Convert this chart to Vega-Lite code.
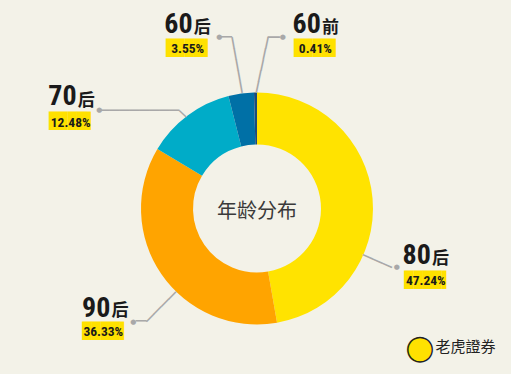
{
  "$schema": "https://vega.github.io/schema/vega-lite/v6.json",
  "width": 508,
  "height": 331,
  "autosize": "none",
  "padding": {"left": 3, "top": 43, "right": 0, "bottom": 0},
  "background": "#F3F2E8",
  "config": {"view": {"stroke": null}},
  "data": {"values": [
    {"gen": "80后", "decade": "80", "suffix": "后", "share": 0.4724, "rank": 1},
    {"gen": "90后", "decade": "90", "suffix": "后", "share": 0.3633, "rank": 2},
    {"gen": "70后", "decade": "70", "suffix": "后", "share": 0.1248, "rank": 3},
    {"gen": "60后", "decade": "60", "suffix": "后", "share": 0.0355, "rank": 4},
    {"gen": "60前", "decade": "60", "suffix": "前", "share": 0.0041, "rank": 5}
  ]},
  "layer": [
    {"mark": {"type": "arc", "innerRadius": 64, "outerRadius": 116},
     "encoding": {"theta": {"field": "share", "type": "quantitative", "stack": true}, "order": {"field": "rank", "type": "quantitative"},
       "color": {"field": "gen", "type": "nominal", "legend": null, "scale": {"domain": ["80后", "90后", "70后", "60后", "60前"], "range": ["#FFE300", "#FFA400", "#00ACC8", "#0070A6", "#1B4C7A"]}}}},
    {"data": {"values": [{"label": "年龄分布"}]},
     "mark": {"type": "text", "font": "Noto Sans CJK SC", "fontSize": 20, "color": "#3a3a3a", "align": "center", "baseline": "middle", "dy": 3},
     "encoding": {"text": {"field": "label"}}},

    {"mark": {"type": "text", "radius": 150, "font": "DejaVu Sans Mono", "fontSize": 17.53, "angle": 23.65, "dx": -16.19, "dy": 77.84, "align": "left", "baseline": "alphabetic", "color": "#A8A8A8"},
     "encoding": {"theta": {"field": "share", "type": "quantitative", "stack": true}, "order": {"field": "rank", "type": "quantitative"}, "text": {"condition": {"test": "datum.gen === '80后'", "value": "───"}, "value": ""}}},
    {"mark": {"type": "text", "radius": 150, "font": "DejaVu Sans Mono", "fontSize": 17.33, "angle": -45.39, "dx": -10.72, "dy": 34.85, "align": "left", "baseline": "alphabetic", "color": "#A8A8A8"},
     "encoding": {"theta": {"field": "share", "type": "quantitative", "stack": true}, "order": {"field": "rank", "type": "quantitative"}, "text": {"condition": {"test": "datum.gen === '90后'", "value": "────"}, "value": ""}}},
    {"mark": {"type": "text", "radius": 150, "font": "DejaVu Sans Mono", "fontSize": 17.5, "dx": 2.31, "dy": 33.87, "align": "left", "baseline": "alphabetic", "color": "#A8A8A8"},
     "encoding": {"theta": {"field": "share", "type": "quantitative", "stack": true}, "order": {"field": "rank", "type": "quantitative"}, "text": {"condition": {"test": "datum.gen === '90后'", "value": "─"}, "value": ""}}},
    {"mark": {"type": "text", "radius": 150, "font": "DejaVu Sans Mono", "fontSize": 16.61, "dx": -68.03, "dy": 27.94, "align": "left", "baseline": "alphabetic", "color": "#A8A8A8"},
     "encoding": {"theta": {"field": "share", "type": "quantitative", "stack": true}, "order": {"field": "rank", "type": "quantitative"}, "text": {"condition": {"test": "datum.gen === '70后'", "value": "────────"}, "value": ""}}},
    {"mark": {"type": "text", "radius": 150, "font": "DejaVu Sans Mono", "fontSize": 15.3, "angle": 43.2, "dx": 24.1, "dy": 13.23, "align": "left", "baseline": "alphabetic", "color": "#A8A8A8"},
     "encoding": {"theta": {"field": "share", "type": "quantitative", "stack": true}, "order": {"field": "rank", "type": "quantitative"}, "text": {"condition": {"test": "datum.gen === '70后'", "value": "─"}, "value": ""}}},
    {"mark": {"type": "text", "radius": 150, "font": "DejaVu Sans Mono", "fontSize": 17.5, "dx": -15.26, "dy": -16.83, "align": "left", "baseline": "alphabetic", "color": "#A8A8A8"},
     "encoding": {"theta": {"field": "share", "type": "quantitative", "stack": true}, "order": {"field": "rank", "type": "quantitative"}, "text": {"condition": {"test": "datum.gen === '60后'", "value": "─"}, "value": ""}}},
    {"mark": {"type": "text", "radius": 150, "font": "DejaVu Sans Mono", "fontSize": 18.7, "angle": 79.77, "dx": -23.1, "dy": 6.84, "align": "left", "baseline": "alphabetic", "color": "#A8A8A8"},
     "encoding": {"theta": {"field": "share", "type": "quantitative", "stack": true}, "order": {"field": "rank", "type": "quantitative"}, "text": {"condition": {"test": "datum.gen === '60后'", "value": "─────"}, "value": ""}}},
    {"mark": {"type": "text", "radius": 150, "font": "DejaVu Sans Mono", "fontSize": 20, "dx": 12.64, "dy": -14.61, "align": "left", "baseline": "alphabetic", "color": "#A8A8A8"},
     "encoding": {"theta": {"field": "share", "type": "quantitative", "stack": true}, "order": {"field": "rank", "type": "quantitative"}, "text": {"condition": {"test": "datum.gen === '60前'", "value": "─"}, "value": ""}}},
    {"mark": {"type": "text", "radius": 150, "font": "DejaVu Sans Mono", "fontSize": 18.81, "angle": 101.92, "dx": -23.36, "dy": -1.78, "align": "left", "baseline": "alphabetic", "color": "#A8A8A8"},
     "encoding": {"theta": {"field": "share", "type": "quantitative", "stack": true}, "order": {"field": "rank", "type": "quantitative"}, "text": {"condition": {"test": "datum.gen === '60前'", "value": "─────"}, "value": ""}}},

    {"mark": {"type": "text", "radius": 150, "font": "DejaVu Sans", "fontSize": 7, "dx": -9.73, "dy": 73.83, "align": "center", "baseline": "alphabetic", "color": "#A8A8A8"},
     "encoding": {"theta": {"field": "share", "type": "quantitative", "stack": true}, "order": {"field": "rank", "type": "quantitative"}, "text": {"condition": {"test": "datum.gen === '80后'", "value": "●"}, "value": ""}}},
    {"mark": {"type": "text", "radius": 150, "font": "DejaVu Sans", "fontSize": 7, "dx": -0.19, "dy": 30.0, "align": "center", "baseline": "alphabetic", "color": "#A8A8A8"},
     "encoding": {"theta": {"field": "share", "type": "quantitative", "stack": true}, "order": {"field": "rank", "type": "quantitative"}, "text": {"condition": {"test": "datum.gen === '90后'", "value": "●"}, "value": ""}}},
    {"mark": {"type": "text", "radius": 150, "font": "DejaVu Sans", "fontSize": 7, "dx": -68.03, "dy": 24.17, "align": "center", "baseline": "alphabetic", "color": "#A8A8A8"},
     "encoding": {"theta": {"field": "share", "type": "quantitative", "stack": true}, "order": {"field": "rank", "type": "quantitative"}, "text": {"condition": {"test": "datum.gen === '70后'", "value": "●"}, "value": ""}}},
    {"mark": {"type": "text", "radius": 150, "font": "DejaVu Sans", "fontSize": 7, "dx": -17.16, "dy": -21.0, "align": "center", "baseline": "alphabetic", "color": "#A8A8A8"},
     "encoding": {"theta": {"field": "share", "type": "quantitative", "stack": true}, "order": {"field": "rank", "type": "quantitative"}, "text": {"condition": {"test": "datum.gen === '60后'", "value": "●"}, "value": ""}}},
    {"mark": {"type": "text", "radius": 150, "font": "DejaVu Sans", "fontSize": 7, "dx": 27.64, "dy": -19.6, "align": "center", "baseline": "alphabetic", "color": "#A8A8A8"},
     "encoding": {"theta": {"field": "share", "type": "quantitative", "stack": true}, "order": {"field": "rank", "type": "quantitative"}, "text": {"condition": {"test": "datum.gen === '60前'", "value": "●"}, "value": ""}}},

    {"mark": {"type": "text", "radius": 150, "font": "DejaVu Sans Mono", "fontSize": 15.5, "dx": -2.13, "dy": 89.86, "align": "left", "baseline": "alphabetic", "color": "#FFE100"},
     "encoding": {"theta": {"field": "share", "type": "quantitative", "stack": true}, "order": {"field": "rank", "type": "quantitative"}, "text": {"condition": {"test": "datum.gen === '80后'", "value": "████▌"}, "value": ""}}},
    {"mark": {"type": "text", "radius": 150, "font": "DejaVu Sans Mono", "fontSize": 15.5, "dx": -51.19, "dy": 42.73, "align": "left", "baseline": "alphabetic", "color": "#FFE100"},
     "encoding": {"theta": {"field": "share", "type": "quantitative", "stack": true}, "order": {"field": "rank", "type": "quantitative"}, "text": {"condition": {"test": "datum.gen === '90后'", "value": "████▌"}, "value": ""}}},
    {"mark": {"type": "text", "radius": 150, "font": "DejaVu Sans Mono", "fontSize": 15.5, "dx": -118.33, "dy": 38.1, "align": "left", "baseline": "alphabetic", "color": "#FFE100"},
     "encoding": {"theta": {"field": "share", "type": "quantitative", "stack": true}, "order": {"field": "rank", "type": "quantitative"}, "text": {"condition": {"test": "datum.gen === '70后'", "value": "████▌"}, "value": ""}}},
    {"mark": {"type": "text", "radius": 150, "font": "DejaVu Sans Mono", "fontSize": 15.5, "dx": -70.46, "dy": -6.87, "align": "left", "baseline": "alphabetic", "color": "#FFE100"},
     "encoding": {"theta": {"field": "share", "type": "quantitative", "stack": true}, "order": {"field": "rank", "type": "quantitative"}, "text": {"condition": {"test": "datum.gen === '60后'", "value": "████▌"}, "value": ""}}},
    {"mark": {"type": "text", "radius": 150, "font": "DejaVu Sans Mono", "fontSize": 15.5, "dx": 38.94, "dy": -5.47, "align": "left", "baseline": "alphabetic", "color": "#FFE100"},
     "encoding": {"theta": {"field": "share", "type": "quantitative", "stack": true}, "order": {"field": "rank", "type": "quantitative"}, "text": {"condition": {"test": "datum.gen === '60前'", "value": "████▌"}, "value": ""}}},

    {"mark": {"type": "text", "radius": 150, "font": "Roboto Condensed, Roboto", "fontWeight": "bold", "fontSize": 13.5, "dx": 19.37, "dy": 89.52, "align": "center", "baseline": "alphabetic", "color": "#1a1a1a"},
     "encoding": {"theta": {"field": "share", "type": "quantitative", "stack": true}, "order": {"field": "rank", "type": "quantitative"}, "text": {"condition": {"test": "datum.gen === '80后'", "field": "share", "format": ".2%"}, "value": ""}}},
    {"mark": {"type": "text", "radius": 150, "font": "Roboto Condensed, Roboto", "fontWeight": "bold", "fontSize": 13.5, "dx": -30.19, "dy": 42.89, "align": "center", "baseline": "alphabetic", "color": "#1a1a1a"},
     "encoding": {"theta": {"field": "share", "type": "quantitative", "stack": true}, "order": {"field": "rank", "type": "quantitative"}, "text": {"condition": {"test": "datum.gen === '90后'", "field": "share", "format": ".2%"}, "value": ""}}},
    {"mark": {"type": "text", "radius": 150, "font": "Roboto Condensed, Roboto", "fontWeight": "bold", "fontSize": 13.5, "dx": -96.63, "dy": 38.26, "align": "center", "baseline": "alphabetic", "color": "#1a1a1a"},
     "encoding": {"theta": {"field": "share", "type": "quantitative", "stack": true}, "order": {"field": "rank", "type": "quantitative"}, "text": {"condition": {"test": "datum.gen === '70后'", "field": "share", "format": ".2%"}, "value": ""}}},
    {"mark": {"type": "text", "radius": 150, "font": "Roboto Condensed, Roboto", "fontWeight": "bold", "fontSize": 13.5, "dx": -48.76, "dy": -6.71, "align": "center", "baseline": "alphabetic", "color": "#1a1a1a"},
     "encoding": {"theta": {"field": "share", "type": "quantitative", "stack": true}, "order": {"field": "rank", "type": "quantitative"}, "text": {"condition": {"test": "datum.gen === '60后'", "field": "share", "format": ".2%"}, "value": ""}}},
    {"mark": {"type": "text", "radius": 150, "font": "Roboto Condensed, Roboto", "fontWeight": "bold", "fontSize": 13.5, "dx": 60.24, "dy": -5.31, "align": "center", "baseline": "alphabetic", "color": "#1a1a1a"},
     "encoding": {"theta": {"field": "share", "type": "quantitative", "stack": true}, "order": {"field": "rank", "type": "quantitative"}, "text": {"condition": {"test": "datum.gen === '60前'", "field": "share", "format": ".2%"}, "value": ""}}},

    {"mark": {"type": "text", "radius": 150, "font": "Roboto Condensed, Roboto", "fontWeight": "bold", "fontSize": 28, "dx": -3.93, "dy": 68.52, "align": "left", "baseline": "alphabetic", "color": "#1a1a1a"},
     "encoding": {"theta": {"field": "share", "type": "quantitative", "stack": true}, "order": {"field": "rank", "type": "quantitative"}, "text": {"condition": {"test": "datum.gen === '80后'", "field": "decade"}, "value": ""}}},
    {"mark": {"type": "text", "radius": 150, "font": "Roboto Condensed, Roboto", "fontWeight": "bold", "fontSize": 28, "dx": -51.49, "dy": 23.09, "align": "left", "baseline": "alphabetic", "color": "#1a1a1a"},
     "encoding": {"theta": {"field": "share", "type": "quantitative", "stack": true}, "order": {"field": "rank", "type": "quantitative"}, "text": {"condition": {"test": "datum.gen === '90后'", "field": "decade"}, "value": ""}}},
    {"mark": {"type": "text", "radius": 150, "font": "Roboto Condensed, Roboto", "fontWeight": "bold", "fontSize": 28, "dx": -119.03, "dy": 16.76, "align": "left", "baseline": "alphabetic", "color": "#1a1a1a"},
     "encoding": {"theta": {"field": "share", "type": "quantitative", "stack": true}, "order": {"field": "rank", "type": "quantitative"}, "text": {"condition": {"test": "datum.gen === '70后'", "field": "decade"}, "value": ""}}},
    {"mark": {"type": "text", "radius": 150, "font": "Roboto Condensed, Roboto", "fontWeight": "bold", "fontSize": 28, "dx": -72.16, "dy": -26.61, "align": "left", "baseline": "alphabetic", "color": "#1a1a1a"},
     "encoding": {"theta": {"field": "share", "type": "quantitative", "stack": true}, "order": {"field": "rank", "type": "quantitative"}, "text": {"condition": {"test": "datum.gen === '60后'", "field": "decade"}, "value": ""}}},
    {"mark": {"type": "text", "radius": 150, "font": "Roboto Condensed, Roboto", "fontWeight": "bold", "fontSize": 28, "dx": 37.44, "dy": -25.21, "align": "left", "baseline": "alphabetic", "color": "#1a1a1a"},
     "encoding": {"theta": {"field": "share", "type": "quantitative", "stack": true}, "order": {"field": "rank", "type": "quantitative"}, "text": {"condition": {"test": "datum.gen === '60前'", "field": "decade"}, "value": ""}}},

    {"mark": {"type": "text", "radius": 150, "font": "Noto Sans CJK SC", "fontWeight": "bold", "fontSize": 17, "dx": 25.57, "dy": 68.52, "align": "left", "baseline": "alphabetic", "color": "#1a1a1a"},
     "encoding": {"theta": {"field": "share", "type": "quantitative", "stack": true}, "order": {"field": "rank", "type": "quantitative"}, "text": {"condition": {"test": "datum.gen === '80后'", "field": "suffix"}, "value": ""}}},
    {"mark": {"type": "text", "radius": 150, "font": "Noto Sans CJK SC", "fontWeight": "bold", "fontSize": 17, "dx": -21.99, "dy": 22.89, "align": "left", "baseline": "alphabetic", "color": "#1a1a1a"},
     "encoding": {"theta": {"field": "share", "type": "quantitative", "stack": true}, "order": {"field": "rank", "type": "quantitative"}, "text": {"condition": {"test": "datum.gen === '90后'", "field": "suffix"}, "value": ""}}},
    {"mark": {"type": "text", "radius": 150, "font": "Noto Sans CJK SC", "fontWeight": "bold", "fontSize": 17, "dx": -89.53, "dy": 17.26, "align": "left", "baseline": "alphabetic", "color": "#1a1a1a"},
     "encoding": {"theta": {"field": "share", "type": "quantitative", "stack": true}, "order": {"field": "rank", "type": "quantitative"}, "text": {"condition": {"test": "datum.gen === '70后'", "field": "suffix"}, "value": ""}}},
    {"mark": {"type": "text", "radius": 150, "font": "Noto Sans CJK SC", "fontWeight": "bold", "fontSize": 17, "dx": -42.66, "dy": -27.21, "align": "left", "baseline": "alphabetic", "color": "#1a1a1a"},
     "encoding": {"theta": {"field": "share", "type": "quantitative", "stack": true}, "order": {"field": "rank", "type": "quantitative"}, "text": {"condition": {"test": "datum.gen === '60后'", "field": "suffix"}, "value": ""}}},
    {"mark": {"type": "text", "radius": 150, "font": "Noto Sans CJK SC", "fontWeight": "bold", "fontSize": 17, "dx": 66.94, "dy": -26.01, "align": "left", "baseline": "alphabetic", "color": "#1a1a1a"},
     "encoding": {"theta": {"field": "share", "type": "quantitative", "stack": true}, "order": {"field": "rank", "type": "quantitative"}, "text": {"condition": {"test": "datum.gen === '60前'", "field": "suffix"}, "value": ""}}},

    {"data": {"values": [{"brand": "老虎證券", "mark": "●"}]},
     "mark": {"type": "text", "font": "DejaVu Sans", "fontSize": 32, "dx": 163, "dy": 149.4, "align": "center", "baseline": "alphabetic", "color": "#FFE100", "stroke": "#222222", "strokeWidth": 1.4},
     "encoding": {"text": {"field": "mark"}}},
    {"data": {"values": [{"brand": "老虎證券", "mark": "●"}]},
     "mark": {"type": "text", "font": "Noto Sans CJK SC", "fontSize": 15, "dx": 178.5, "dy": 143.8, "align": "left", "baseline": "alphabetic", "color": "#222222"},
     "encoding": {"text": {"field": "brand"}}}
  ]
}
